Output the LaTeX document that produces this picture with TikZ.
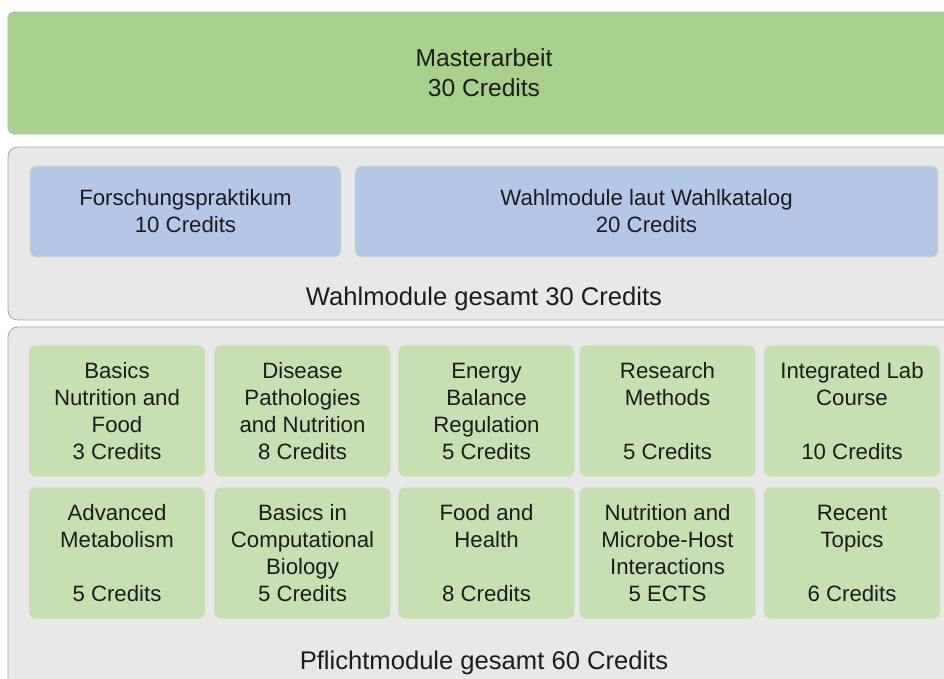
\documentclass[tikz,border=0pt]{standalone}
\usepackage{fontspec}
\setmainfont{Liberation Sans}
\usepackage{tikz}
\usetikzlibrary{positioning}

\definecolor{masterGreen}{HTML}{A9D18E}
\definecolor{moduleGreen}{HTML}{C6E0B4}
\definecolor{electiveBlue}{HTML}{B4C7E7}
\definecolor{panelGrey}{HTML}{E8E8E8}
\definecolor{panelEdge}{HTML}{A8A8A8}
\definecolor{textDark}{HTML}{1C1C1C}
\definecolor{masterEdge}{HTML}{A3BBD6}

\tikzset{
  panel/.style={draw=panelEdge, fill=panelGrey, line width=0.6pt, rounded corners=7pt},
  boxfont/.style={font=\fontsize{15.8}{19.2}\selectfont, text=textDark, align=center},
  tile/.style={boxfont, fill=moduleGreen, rounded corners=5pt, inner sep=0pt,
    minimum width=4.4cm, minimum height=3.28cm},
  elective/.style={boxfont, fill=electiveBlue, draw=masterGreen!60, line width=0.6pt,
    rounded corners=5pt, inner sep=0pt, minimum height=2.275cm},
  sumtext/.style={font=\fontsize{18.2}{22}\selectfont, text=textDark, anchor=base}
}

\begin{document}
\begin{tikzpicture}[x=0.025cm, y=-0.025cm]
    \useasboundingbox (0,0) rectangle (944,678);
    \clip (0,0) rectangle (944,678);

    % Thesis
    \node[fill=masterGreen, draw=masterEdge, line width=0.5pt, rounded corners=4pt,
      minimum width=23.8cm, minimum height=3.05cm, align=center, text=textDark,
      font=\fontsize{17.5}{21.3}\selectfont] (thesis) at (484,73) {Masterarbeit\\30 Credits};

    % Electives
    \draw[panel] (8,147) rectangle (960,320);
    \node[elective, minimum width=7.775cm] (research) at (185.5,211.5) {Forschungspraktikum\\10 Credits};
    \node[elective, minimum width=14.575cm] (catalogue) at (646.5,211.5) {Wahlmodule laut Wahlkatalog\\20 Credits};
    \node[sumtext] (electivesum) at (484,305) {Wahlmodule gesamt 30 Credits};

    % Compulsory modules
    \draw[panel] (8,327) rectangle (960,700);
    \node[tile] (basics) at (117,411) {Basics\\Nutrition and\\Food\\3 Credits};
    \node[tile] (disease) at (302.5,411) {Disease\\Pathologies\\and Nutrition\\8 Credits};
    \node[tile] (energy) at (486.5,411) {Energy\\Balance\\Regulation\\5 Credits};
    \node[tile] (methods) at (667.5,411) {Research\\Methods\\~\\5 Credits};
    \node[tile] (lab) at (852,411) {Integrated Lab\\Course\\~\\10 Credits};
    \node[tile] (metabolism) at (117,553) {Advanced\\Metabolism\\~\\5 Credits};
    \node[tile] (compbio) at (302.5,553) {Basics in\\Computational\\Biology\\5 Credits};
    \node[tile] (health) at (486.5,553) {Food and\\Health\\~\\8 Credits};
    \node[tile] (microbe) at (667.5,553) {Nutrition and\\Microbe-Host\\Interactions\\5 ECTS};
    \node[tile] (topics) at (852,553) {Recent\\Topics\\~\\6 Credits};
    \node[sumtext] (compulsorysum) at (484,669) {Pflichtmodule gesamt 60 Credits};
\end{tikzpicture}
\end{document}
